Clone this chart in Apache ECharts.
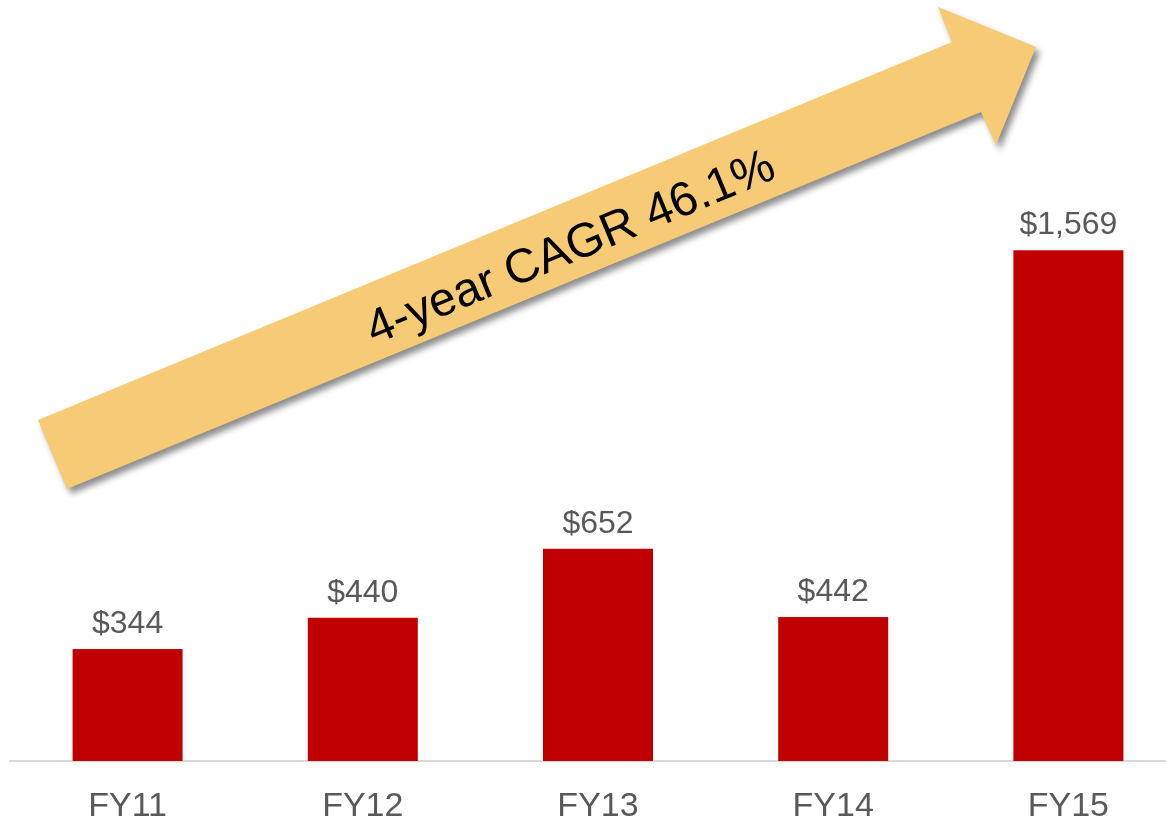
<!DOCTYPE html>
<html>
<head>
<meta charset="utf-8">
<script src="https://cdn.jsdelivr.net/npm/echarts@6/dist/echarts.min.js"></script>
<style>
html,body{margin:0;padding:0;background:#fff;}
#chart{width:1166px;height:822px;}
</style>
</head>
<body>
<div id="chart"></div>
<script>
const categories = ['FY11', 'FY12', 'FY13', 'FY14', 'FY15'];
const revenue = [344, 440, 652, 442, 1569];
const arrowText = '4-year CAGR 46.1%';

const chart = echarts.init(document.getElementById('chart'), null, {renderer: 'canvas'});
const font = '"Liberation Sans", Arial, sans-serif';

chart.setOption({
  animation: false,
  backgroundColor: '#ffffff',
  grid: {left: 10, right: -20, top: 175, bottom: 61, containLabel: false, outerBoundsMode: 'none'},
  xAxis: {
    type: 'category',
    data: categories,
    axisLine: {show: true, lineStyle: {color: '#d9d9d9', width: 2}},
    axisTick: {show: false},
    axisLabel: {color: '#595959', fontSize: 34, fontFamily: font, margin: 29}
  },
  yAxis: {
    type: 'value',
    min: 0,
    max: 1800,
    show: false,
    splitLine: {show: false}
  },
  series: [{
    type: 'bar',
    data: revenue,
    barWidth: 110,
    itemStyle: {color: '#c00000'},
    label: {
      show: true,
      position: 'top',
      distance: 9,
      color: '#595959',
      fontSize: 32,
      fontFamily: font,
      formatter: p => '$' + p.value.toLocaleString('en-US')
    }
  }],
  graphic: [
    {
      type: 'polygon',
      z: 10,
      shape: {
        points: [[38, 420], [952, 42], [938, 7], [1036, 47], [996, 145], [981, 112], [67, 489]]
      },
      style: {
        fill: '#f7cb76',
        shadowBlur: 6,
        shadowColor: 'rgba(0,0,0,0.45)',
        shadowOffsetX: 4,
        shadowOffsetY: 5
      }
    },
    {
      type: 'text',
      z: 11,
      x: 571,
      y: 249,
      rotation: 22.5 * Math.PI / 180,
      style: {
        text: arrowText,
        fill: '#000000',
        font: '48px "Liberation Sans", Arial, sans-serif',
        textAlign: 'center',
        textVerticalAlign: 'middle'
      }
    }
  ]
});
</script>
</body>
</html>
